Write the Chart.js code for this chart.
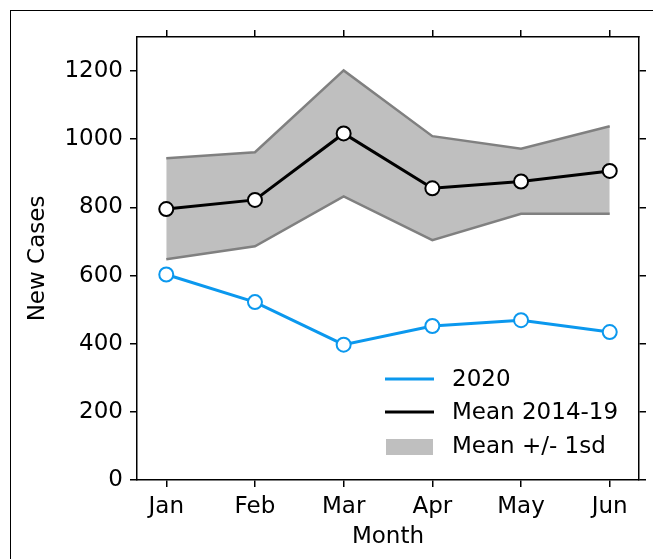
<!DOCTYPE html>
<html>
<head>
<meta charset="utf-8">
<script src="https://cdn.jsdelivr.net/npm/chart.js@4"></script>
<style>
  body { margin: 0; background: #fff; }
  .frame { position: absolute; left: 10px; top: 10px; width: 660px; height: 600px; border: 1.5px solid #000; box-sizing: border-box; }
  .wrap { position: absolute; left: 0; top: 0; width: 653px; height: 559px; }
</style>
</head>
<body>
<div class="frame"></div>
<div class="wrap"><canvas id="myChart" width="653" height="559"></canvas></div>
<script>
const months = ['Jan', 'Feb', 'Mar', 'Apr', 'May', 'Jun'];
const cases2020 = [603, 522, 397, 452, 469, 434];
const mean1419 = [795, 822, 1017, 856, 876, 907];
const upperSd = [944, 962, 1202, 1009, 972, 1038];
const lowerSd = [648, 686, 832, 704, 781, 781];
const yTicks = [0, 200, 400, 600, 800, 1000, 1200];

const FONT = 'DejaVu Sans';
const FS = 23;
const pts = arr => arr.map((v, i) => ({x: i, y: v}));
const monthTicks = s => { s.ticks = months.map((m, i) => ({value: i})); };
const valueTicks = s => { s.ticks = yTicks.map(v => ({value: v})); };

// legend drawn inside the plot, like the matplotlib one
const legendBox = {
    id: 'legendBox',
    afterDraw(chart) {
        const c = chart.ctx;
        c.save();
        c.font = FS + 'px "' + FONT + '"';
        c.fillStyle = '#000';
        c.textBaseline = 'middle';
        c.lineWidth = 3;
        c.strokeStyle = '#0b98ee';
        c.beginPath(); c.moveTo(385, 379); c.lineTo(434, 379); c.stroke();
        c.fillText('2020', 452, 380);
        c.strokeStyle = '#000';
        c.beginPath(); c.moveTo(385, 412); c.lineTo(434, 412); c.stroke();
        c.fillText('Mean 2014-19', 452, 413);
        c.fillStyle = '#bfbfbf';
        c.fillRect(386, 439, 47, 16);
        c.fillStyle = '#000';
        c.fillText('Mean +/- 1sd', 452, 447);
        c.restore();
    }
};

const ctx = document.getElementById('myChart');
new Chart(ctx, {
    type: 'line',
    data: {
        datasets: [
            {
                label: 'upper',
                data: pts(upperSd),
                borderColor: '#808080',
                backgroundColor: '#bfbfbf',
                borderWidth: 2.5,
                pointRadius: 0,
                fill: '+1',
                tension: 0,
                order: 3
            },
            {
                label: 'lower',
                data: pts(lowerSd),
                borderColor: '#808080',
                borderWidth: 2.5,
                pointRadius: 0,
                fill: false,
                tension: 0,
                order: 2
            },
            {
                label: 'Mean 2014-19',
                data: pts(mean1419),
                borderColor: '#000',
                borderWidth: 3,
                pointRadius: 7,
                pointBackgroundColor: '#fff',
                pointBorderColor: '#000',
                pointBorderWidth: 2,
                fill: false,
                tension: 0,
                order: 1
            },
            {
                label: '2020',
                data: pts(cases2020),
                borderColor: '#0b98ee',
                borderWidth: 3,
                pointRadius: 7,
                pointBackgroundColor: '#fff',
                pointBorderColor: '#0b98ee',
                pointBorderWidth: 2,
                fill: false,
                tension: 0,
                order: 0
            }
        ]
    },
    options: {
        responsive: false,
        animation: false,
        layout: { padding: 0 },
        plugins: { legend: { display: false }, tooltip: { enabled: false } },
        scales: {
            x: {
                type: 'linear',
                position: 'bottom',
                min: -0.33,
                max: 5.33,
                afterBuildTicks: monthTicks,
                afterFit: s => { s.height = 79; },
                border: { color: '#000', width: 1.5 },
                grid: { drawOnChartArea: false, tickLength: 7, color: '#000', lineWidth: 1.5 },
                ticks: {
                    color: '#000', padding: 6,
                    font: { family: FONT, size: FS },
                    callback: v => months[v]
                },
                title: { display: true, text: 'Month', color: '#000', padding: { top: 0, bottom: 8 }, font: { family: FONT, size: FS } }
            },
            x2: {
                type: 'linear',
                position: 'top',
                min: -0.33,
                max: 5.33,
                afterBuildTicks: monthTicks,
                afterFit: s => { s.height = 37; },
                border: { color: '#000', width: 1.5 },
                grid: { drawOnChartArea: false, tickLength: 7, color: '#000', lineWidth: 1.5 },
                ticks: { display: false }
            },
            y: {
                position: 'left',
                min: 0,
                max: 1300,
                afterBuildTicks: valueTicks,
                afterFit: s => { s.width = 137; },
                border: { color: '#000', width: 1.5 },
                grid: { drawOnChartArea: false, tickLength: 7, color: '#000', lineWidth: 1.5 },
                ticks: { color: '#000', padding: 7, font: { family: FONT, size: FS }, callback: v => String(v) },
                title: { display: true, text: 'New Cases', color: '#000', padding: { top: 24, bottom: 0 }, font: { family: FONT, size: FS } }
            },
            y2: {
                position: 'right',
                min: 0,
                max: 1300,
                afterBuildTicks: valueTicks,
                afterFit: s => { s.width = 14; },
                border: { color: '#000', width: 1.5 },
                grid: { drawOnChartArea: false, tickLength: 7, color: '#000', lineWidth: 1.5 },
                ticks: { display: false }
            }
        }
    },
    plugins: [legendBox]
});
</script>
</body>
</html>
